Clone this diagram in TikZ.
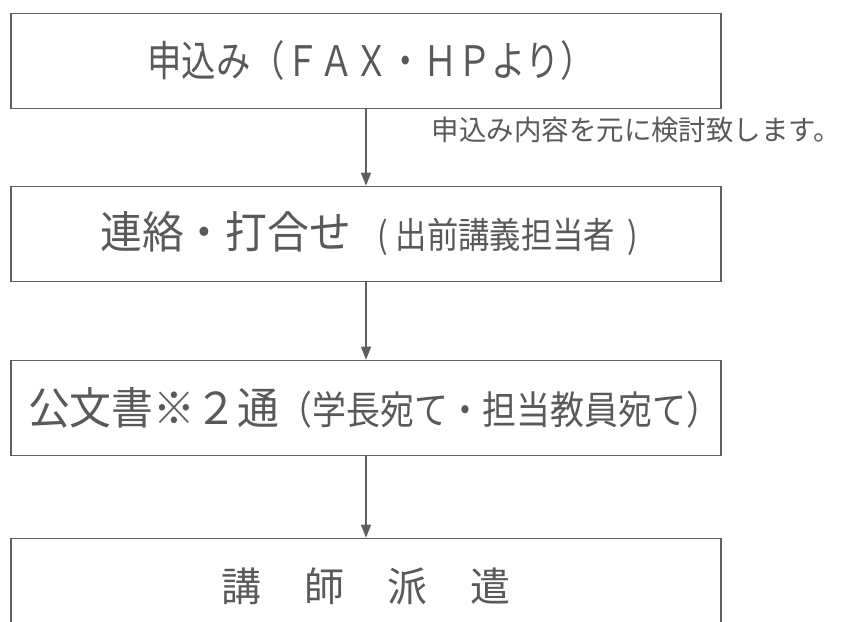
\documentclass[tikz,border=0pt]{standalone}
\usepackage{fontspec}
\setmainfont{Noto Sans CJK JP}
\newfontfamily\jpA[FakeStretch=0.82]{Noto Sans CJK JP}
\newfontfamily\jpB[FakeStretch=0.95]{Noto Sans CJK JP}
\newfontfamily\jpC[FakeStretch=0.87]{Noto Sans CJK JP}
\newfontfamily\jpD[FakeStretch=0.98]{Noto Sans CJK JP}
\usetikzlibrary{arrows.meta}
\definecolor{linegray}{HTML}{5F5F5F}
\definecolor{textgray}{HTML}{595959}
\tikzset{
  flowbox/.style={draw=linegray, line width=1.6pt, minimum width=710pt, minimum height=95pt, inner sep=0pt, text=textgray, anchor=center},
  flowarrow/.style={draw=linegray, line width=1.2pt, -{Triangle[length=13pt,width=10pt]}},
  note/.style={text=textgray, inner sep=0pt}
}
\newcommand{\fs}[1]{\fontsize{#1}{#1}\selectfont}
\begin{document}
\begin{tikzpicture}[x=1pt,y=-1pt]
\useasboundingbox (0,0) rectangle (842,621);
\clip (0,0) rectangle (842,621);
\node[flowbox] (b1) at (366,61) {\hspace*{10pt}\jpA\fs{42}申込み（ＦＡＸ・ＨＰより）};
\node[flowbox] (b2) at (366,234) {\hspace*{6pt}\jpB\fs{44}連絡・打合せ\hspace{26pt}{\jpC\fs{36}(\hspace{8pt}出前講義担当者\hspace{12pt})}};
\node[flowbox] (b3) at (366,408) {\hspace*{16pt}\jpB\fs{44}公文書※２通{\jpC\fs{39}（学長宛て・担当教員宛て）}};
\node[flowbox] (b4) at (366,586) {\fs{40}講\hspace{43pt}師\hspace{43pt}派\hspace{43pt}遣};
\node[note, anchor=east] (n1) at (841,130) {\jpD\fs{28}申込み内容を元に検討致します。};
\draw[flowarrow] (b1) -- (b2);
\draw[flowarrow] (b2) -- (b3);
\draw[flowarrow] (b3) -- (b4);
\end{tikzpicture}
\end{document}
